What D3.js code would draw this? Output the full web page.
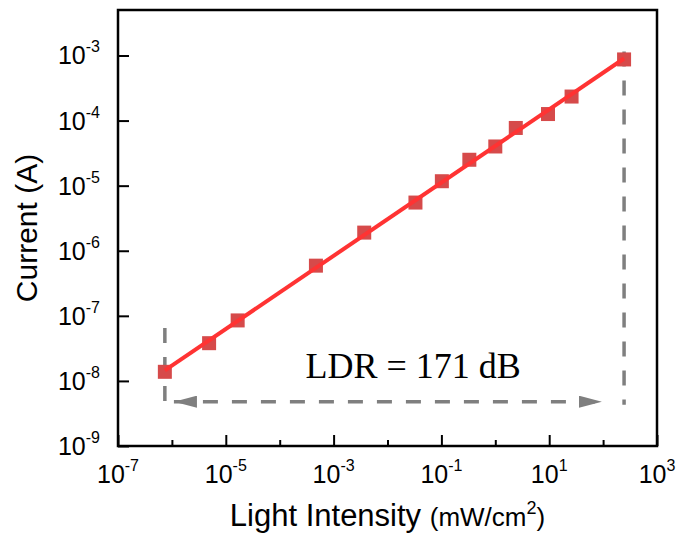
<!DOCTYPE html>
<html>
<head>
<meta charset="utf-8">
<script src="https://cdn.jsdelivr.net/npm/d3@7"></script>
<style>
  body { margin: 0; background: #fff; }
  text { font-family: "Liberation Sans", Arial, sans-serif; fill: #000; }
</style>
</head>
<body>
<script>
// light intensity (mW/cm2) and photocurrent (A)
var intensity = [7.4e-7, 4.9e-6, 1.66e-5, 4.7e-4, 3.7e-3, 0.033, 0.102, 0.33, 1.0, 2.4, 9.5, 26, 245];
var current = [1.38e-8, 3.8e-8, 8.5e-8, 5.9e-7, 1.9e-6, 5.5e-6, 1.17e-5, 2.5e-5, 4.0e-5, 7.7e-5, 1.26e-4, 2.34e-4, 8.7e-4];

var xMajor = [-7, -5, -3, -1, 1, 3];      // exponents with labels
var xMinor = [-6, -4, -2, 0, 2];
var yMajor = [-9, -8, -7, -6, -5, -4, -3];

var ldrText = 'LDR = 171 dB';
// annotation anchors in data units
var arrowY = 4.8e-9;
var arrowTips = [1.09e-6, 95];
var guideTops = [6.5e-8, 1.15e-3];
var labelPos = [3.0e-4, 1.1e-8];

var width = 678, height = 536;
var margin = { left: 118, top: 10, right: 21, bottom: 90 };
var w = width - margin.left - margin.right;
var h = height - margin.top - margin.bottom;

var svg = d3.select('body').append('svg')
    .attr('width', width)
    .attr('height', height);

var g = svg.append('g')
    .attr('transform', 'translate(' + margin.left + ',' + margin.top + ')');

var x = d3.scaleLog().domain([1e-7, 1e3]).range([0, w]);
var y = d3.scaleLog().domain([1e-9, 5e-3]).range([h, 0]);

// arrow heads
var defs = svg.append('defs');
defs.append('marker')
    .attr('id', 'arrow')
    .attr('viewBox', '0 0 23 12')
    .attr('refX', 23).attr('refY', 6)
    .attr('markerWidth', 23).attr('markerHeight', 12)
    .attr('markerUnits', 'userSpaceOnUse')
    .attr('orient', 'auto-start-reverse')
    .append('path')
    .attr('d', 'M0,0 L23,6 L0,12 Z')
    .attr('fill', '#7f7f7f');

// ticks (inward)
function plainTicks(a) {
    a.select('.domain').remove();
    a.selectAll('line').attr('stroke-width', 2);
}

g.append('g')
    .attr('transform', 'translate(0,' + h + ')')
    .call(d3.axisBottom(x).tickValues(xMajor.map(function (e) { return Math.pow(10, e); }))
        .tickSize(-11).tickFormat(''))
    .call(plainTicks);

g.append('g')
    .attr('transform', 'translate(0,' + h + ')')
    .call(d3.axisBottom(x).tickValues(xMinor.map(function (e) { return Math.pow(10, e); }))
        .tickSize(-6).tickFormat(''))
    .call(plainTicks);

g.append('g')
    .call(d3.axisLeft(y).tickValues(yMajor.map(function (e) { return Math.pow(10, e); }))
        .tickSize(-11).tickFormat(''))
    .call(plainTicks);

// tick labels with superscripts
function powLabel(sel) {
    sel.append('tspan').text('10');
    sel.append('tspan').attr('dy', -12).attr('font-size', 16)
        .text(function (e) { return e; });
}

g.selectAll('text.xlab')
    .data(xMajor)
    .enter().append('text')
    .attr('class', 'xlab')
    .attr('x', function (e) { return x(Math.pow(10, e)); })
    .attr('y', h + 37)
    .attr('text-anchor', 'middle')
    .attr('font-size', 25)
    .call(powLabel);

g.selectAll('text.ylab')
    .data(yMajor)
    .enter().append('text')
    .attr('class', 'ylab')
    .attr('x', -18)
    .attr('y', function (e) { return y(Math.pow(10, e)) + 9; })
    .attr('text-anchor', 'end')
    .attr('font-size', 25)
    .call(powLabel);

// frame
g.append('rect')
    .attr('width', w).attr('height', h)
    .attr('fill', 'none')
    .attr('stroke', '#000')
    .attr('stroke-width', 2.5);

// guide lines
var gray = '#7f7f7f';
g.selectAll('line.guide')
    .data([0, 1])
    .enter().append('line')
    .attr('class', 'guide')
    .attr('x1', function (i) { return x(intensity[i === 0 ? 0 : intensity.length - 1]); })
    .attr('x2', function (i) { return x(intensity[i === 0 ? 0 : intensity.length - 1]); })
    .attr('y1', function (i) { return y(guideTops[i]); })
    .attr('y2', y(arrowY) + 3)
    .attr('stroke', gray)
    .attr('stroke-width', 3.5)
    .attr('stroke-dasharray', '15,14');

g.append('line')
    .attr('x1', x(arrowTips[0])).attr('x2', x(arrowTips[1]))
    .attr('y1', y(arrowY)).attr('y2', y(arrowY))
    .attr('stroke', gray)
    .attr('stroke-width', 3.5)
    .attr('stroke-dasharray', '15,14')
    .attr('marker-start', 'url(#arrow)')
    .attr('marker-end', 'url(#arrow)');

g.append('text')
    .attr('x', x(labelPos[0]))
    .attr('y', y(labelPos[1]))
    .style('font-family', '"Liberation Serif", "Times New Roman", serif')
    .attr('font-size', 36)
    .text(ldrText);

// markers
var pts = intensity.map(function (v, i) { return { x: v, y: current[i] }; });
var s = 14;
g.selectAll('rect.pt')
    .data(pts)
    .enter().append('rect')
    .attr('class', 'pt')
    .attr('x', function (d) { return x(d.x) - s / 2; })
    .attr('y', function (d) { return y(d.y) - s / 2; })
    .attr('width', s).attr('height', s)
    .attr('fill', '#d64a4a');

// linear fit in log-log space
var lx = intensity.map(Math.log10), ly = current.map(Math.log10);
var mx = d3.mean(lx), my = d3.mean(ly);
var slope = d3.sum(lx, function (v, i) { return (v - mx) * (ly[i] - my); }) /
            d3.sum(lx, function (v) { return (v - mx) * (v - mx); });
var icpt = my - slope * mx;
var fit = d3.extent(intensity).map(function (v) {
    return { x: v, y: Math.pow(10, icpt + slope * Math.log10(v)) };
});

g.append('path')
    .datum(fit)
    .attr('d', d3.line().x(function (d) { return x(d.x); }).y(function (d) { return y(d.y); }))
    .attr('fill', 'none')
    .attr('stroke', '#ff3333')
    .attr('stroke-width', 4);

// axis titles
var xt = svg.append('text')
    .attr('x', margin.left + w / 2)
    .attr('y', 526)
    .attr('text-anchor', 'middle')
    .attr('font-size', 31);
xt.append('tspan').text('Light Intensity ');
xt.append('tspan').attr('font-size', 26).text('(mW/cm');
xt.append('tspan').attr('font-size', 18).attr('dy', -12).text('2');
xt.append('tspan').attr('font-size', 26).attr('dy', 12).text(')');

svg.append('text')
    .attr('transform', 'translate(37,' + (margin.top + h / 2) + ') rotate(-90)')
    .attr('text-anchor', 'middle')
    .attr('font-size', 30)
    .text('Current (A)');
</script>
</body>
</html>
